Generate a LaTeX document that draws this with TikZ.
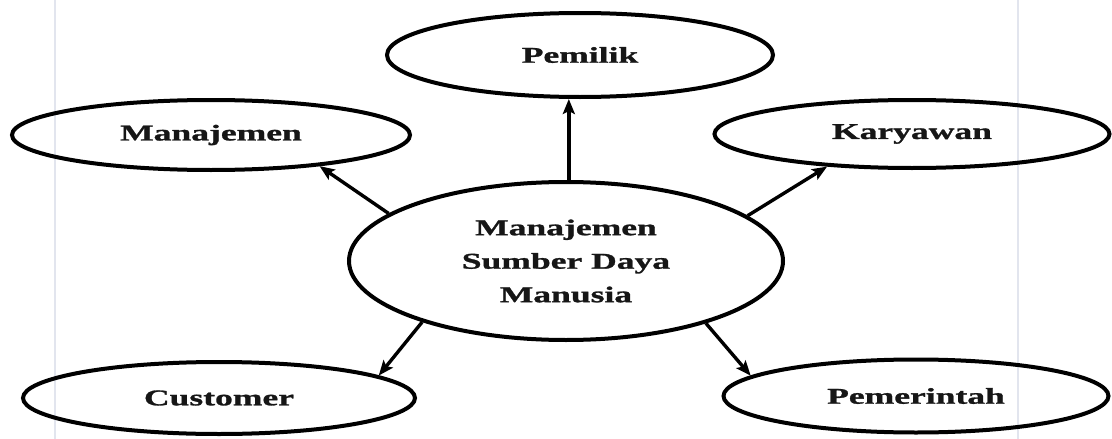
\documentclass[tikz,border=0pt]{standalone}
\usepackage{fontspec}
\setmainfont[FakeStretch=1.58,FakeBold=1.2]{Liberation Serif}
\usetikzlibrary{shapes.geometric,arrows.meta}
\definecolor{scanline}{RGB}{226,229,238}
\definecolor{inktext}{RGB}{22,22,22}
\begin{document}
\begin{tikzpicture}[x=1pt,y=-1pt,
  oval/.style={draw=black, line width=4pt, ellipse, inner sep=0pt,
    font=\fontsize{22.5}{33.5}\selectfont\bfseries, text=inktext, align=center},
  arr/.style={draw=black, line width=3.4pt, -{Stealth[length=15pt,width=12pt,inset=3pt]}},
  faint/.style={draw=scanline, line width=1.5pt}]
\useasboundingbox (0,0) rectangle (1112,439);
\fill[white] (0,0) rectangle (1112,439);
\coordinate (fa1) at (55,0);   \coordinate (fb1) at (55,439);
\coordinate (fa2) at (1018,0); \coordinate (fb2) at (1018,439);
\draw[faint] (fa1) -- (fb1);
\draw[faint] (fa2) -- (fb2);

\node[oval, minimum width=386pt, minimum height=84pt] (pem) at (580,55) {Pemilik};
\node[oval, minimum width=398pt, minimum height=70pt] (man) at (211,135) {Manajemen};
\node[oval, minimum width=395pt, minimum height=68pt] (kar) at (912,134) {Karyawan};
\node[oval, minimum width=434pt, minimum height=158pt] (c) at (566,261) {Manajemen\\Sumber Daya\\Manusia};
\node[oval, minimum width=392pt, minimum height=72pt] (cus) at (219,398) {Customer};
\node[oval, minimum width=385pt, minimum height=73pt] (gov) at (916,396) {Pemerintah};

\draw[arr] (c.88) -- (c.88 |- pem.south);
\draw[arr] (c.165) -- (man.-16);
\draw[arr] (c.14) -- (kar.201);
\draw[arr] (c.203) -- (cus.8);
\draw[arr] (c.-24) -- (gov.173);
\end{tikzpicture}
\end{document}
